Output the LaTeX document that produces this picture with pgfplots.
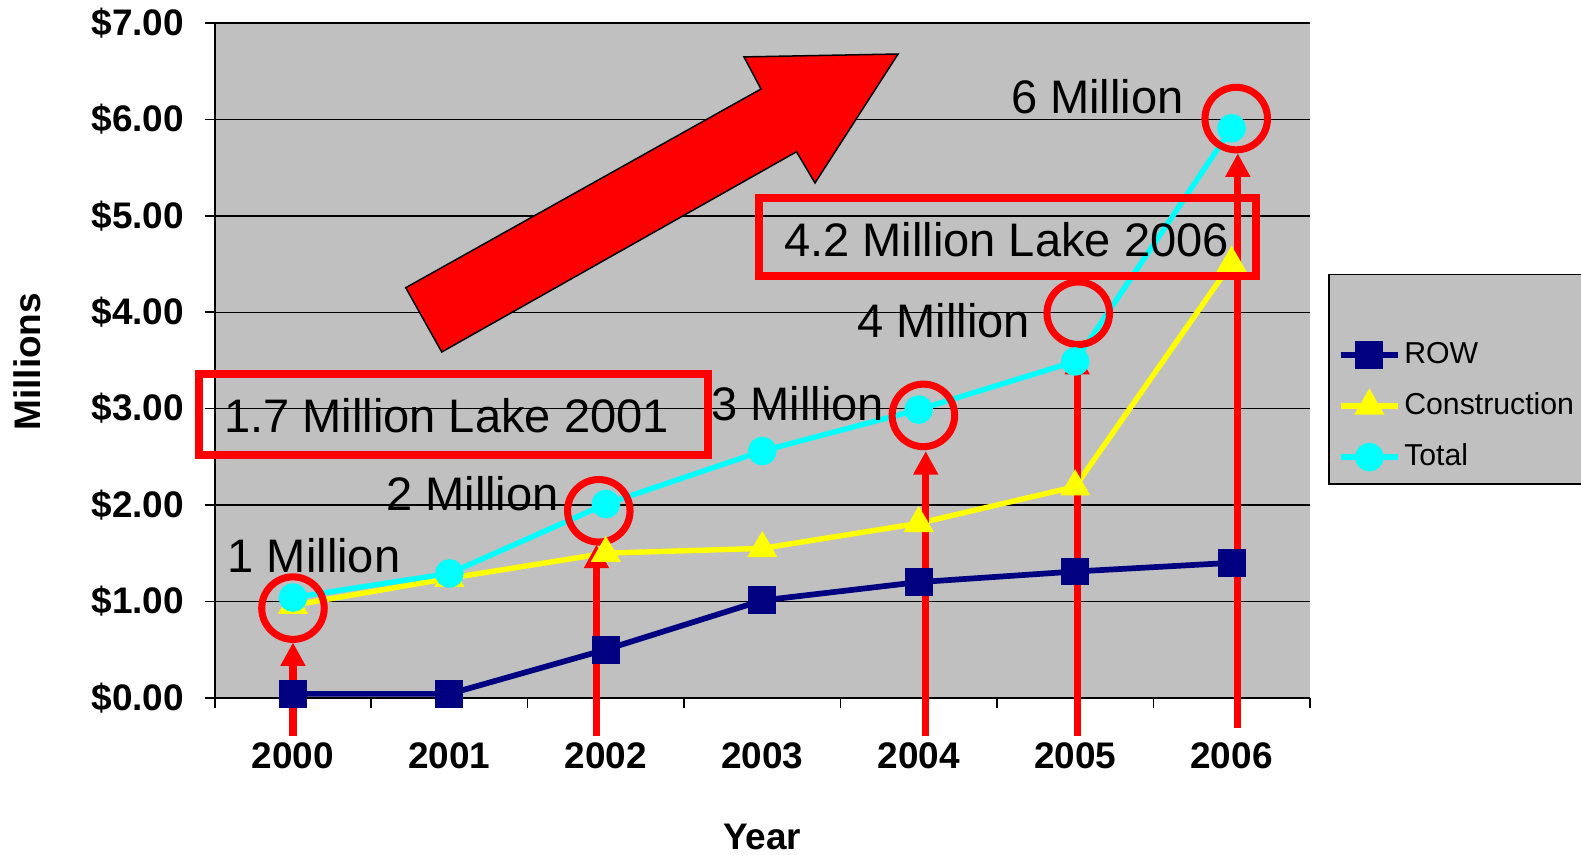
\documentclass[border=0pt]{standalone}
\usepackage{fontspec}
\setmainfont{Liberation Sans}
\usepackage{pgfplots}
\pgfplotsset{compat=1.18}
\usetikzlibrary{arrows.meta}
\definecolor{rownavy}{RGB}{0,0,128}
\definecolor{plotgray}{RGB}{192,192,192}
\definecolor{pcyan}{RGB}{0,255,255}
\definecolor{pyellow}{RGB}{255,255,0}
\definecolor{pred}{RGB}{255,0,0}
\begin{document}
\begin{tikzpicture}
\useasboundingbox (0,0) rectangle (470.4pt,254.1pt);
\begin{axis}[
  at={(63.9pt,46.5pt)}, anchor=south west,
  scale only axis, width=325.8pt, height=200.7pt,
  xmin=-0.5, xmax=6.5, ymin=0, ymax=7,
  clip=false,
  axis background/.style={fill=plotgray},
  axis x line*=bottom, axis y line*=left,
  axis line style={black, line width=0.5pt},
  tick align=outside,
  xtick={0,1,2,3,4,5,6},
  xticklabels={2000,2001,2002,2003,2004,2005,2006},
  major x tick style={draw=none},
  minor xtick={-0.5,0.5,1.5,2.5,3.5,4.5,5.5,6.5},
  minor x tick style={black, line width=0.5pt},
  minor tick length=3pt,
  ytick={0,1,2,3,4,5,6,7},
  major tick length=3pt,
  y tick style={black, line width=0.5pt},
  ymajorgrids,
  grid style={black, line width=0.45pt},
  /pgf/number format/assume math mode=true,
  yticklabel={\$\pgfmathprintnumber[fixed,fixed zerofill,precision=2]{\tick}},
  ticklabel style={font=\bfseries\fontsize{11}{13}\selectfont},
  xticklabel style={yshift=-6.8pt},
  yticklabel style={xshift=-2.6pt},
  xlabel={Year},
  xlabel style={at={(axis description cs:0.5,-0.206)}, anchor=center, font=\bfseries\fontsize{11}{13}\selectfont},
  ylabel={Millions},
  ylabel style={at={(axis description cs:-0.1713,0.498)}, anchor=center, font=\bfseries\fontsize{11}{13}\selectfont},
  legend style={draw=none, fill=none, at={(rel axis cs:1.0250,0.4320)}, anchor=west,
    font=\fontsize{9}{11}\selectfont, row sep=5.2pt, inner sep=0pt,
    nodes={inner sep=1pt}},
  legend cell align=left,
]
\draw[black, line width=0.4pt, fill=plotgray] (rel axis cs:1.0175,0.6278) rectangle (rel axis cs:1.30,0.3169);

\addplot[color=rownavy, line width=1.7pt, mark=square*, mark size=3.3pt, mark options={solid}]
  coordinates {(0,0.04) (1,0.04) (2,0.50) (3,1.01) (4,1.20) (5,1.31) (6,1.40)};
\addlegendentry{ROW}
\addplot[color=pyellow, line width=1.6pt, mark=triangle*, mark size=3.6pt, mark options={solid}]
  coordinates {(0,0.96) (1,1.24) (2,1.50) (3,1.55) (4,1.81) (5,2.19) (6,4.51)};
\addlegendentry{Construction}
\addplot[color=pcyan, line width=1.6pt, mark=*, mark size=3.45pt, mark options={solid}]
  coordinates {(0,1.04) (1,1.29) (2,2.01) (3,2.56) (4,2.99) (5,3.49) (6,5.91)};
\addlegendentry{Total}

% big red trend arrow
\draw[black, line width=0.45pt, fill=pred] (axis cs:0.721,4.255) -- (axis cs:0.951,3.588) -- (axis cs:3.219,5.666) -- (axis cs:3.337,5.342) -- (axis cs:3.868,6.680) -- (axis cs:2.883,6.650) -- (axis cs:2.992,6.317) -- cycle;

% circles
\draw[pred, line width=2.1pt] (axis cs:0,0.93) circle[radius=9.3pt];
\draw[pred, line width=2.1pt] (axis cs:1.955,1.94) circle[radius=9.3pt];
\draw[pred, line width=2.1pt] (axis cs:4.03,2.93) circle[radius=9.3pt];
\draw[pred, line width=2.1pt] (axis cs:5.02,3.99) circle[radius=9.3pt];
\draw[pred, line width=2.1pt] (axis cs:6.03,6.01) circle[radius=9.3pt];

% vertical arrows
\draw[pred, line width=2.1pt, -{Triangle[length=7pt,width=7pt]}] (axis cs:0,-0.40) -- (axis cs:0,0.575);
\draw[pred, line width=2.1pt, -{Triangle[length=7pt,width=7pt]}] (axis cs:1.94,-0.40) -- (axis cs:1.94,1.59);
\draw[pred, line width=2.1pt, -{Triangle[length=7pt,width=7pt]}] (axis cs:4.045,-0.40) -- (axis cs:4.045,2.56);
\draw[pred, line width=2.1pt, -{Triangle[length=7pt,width=7pt]}] (axis cs:5.013,-0.40) -- (axis cs:5.013,3.60);
\draw[pred, line width=2.1pt, -{Triangle[length=7pt,width=7pt]}] (axis cs:6.04,-0.31) -- (axis cs:6.04,5.65);

% boxes
\draw[pred, line width=2.4pt] (axis cs:-0.6,3.359) rectangle (axis cs:2.652,2.522);
\draw[pred, line width=2.4pt] (axis cs:2.981,5.19) rectangle (axis cs:6.155,4.374);

% labels
\node[inner sep=0pt, font=\fontsize{14}{16}\selectfont] at (axis cs:0.981,2.93) {1.7 Million Lake 2001};
\node[inner sep=0pt, font=\fontsize{14}{16}\selectfont] at (axis cs:4.561,4.75) {4.2 Million Lake 2006};
\node[inner sep=0pt, font=\fontsize{14}{16}\selectfont] at (axis cs:0.135,1.475) {1 Million};
\node[inner sep=0pt, font=\fontsize{14}{16}\selectfont] at (axis cs:1.148,2.114) {2 Million};
\node[inner sep=0pt, font=\fontsize{14}{16}\selectfont] at (axis cs:3.226,3.055) {3 Million};
\node[inner sep=0pt, font=\fontsize{14}{16}\selectfont] at (axis cs:4.161,3.913) {4 Million};
\node[inner sep=0pt, font=\fontsize{14}{16}\selectfont] at (axis cs:5.142,6.236) {6 Million};
\end{axis}
\end{tikzpicture}
\end{document}
